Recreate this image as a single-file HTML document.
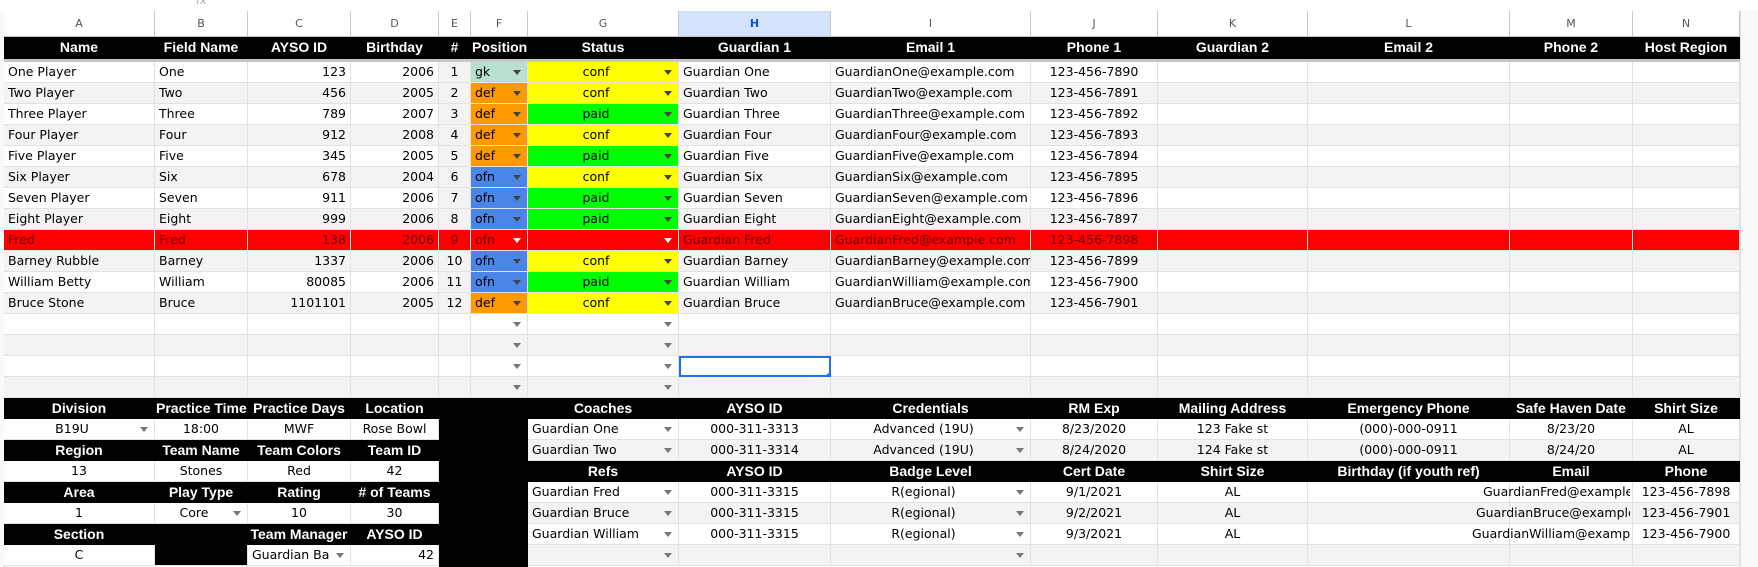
<!DOCTYPE html>
<html><head><meta charset="utf-8">
<style>
html,body{margin:0;padding:0;}
body{width:1758px;height:567px;position:relative;overflow:hidden;background:#fff;font-family:"DejaVu Sans","Liberation Sans",sans-serif;font-size:12.5px;color:#000;}
.c{position:absolute;box-sizing:border-box;border-right:1px solid #e2e2e2;border-bottom:1px solid #e2e2e2;overflow:hidden;white-space:nowrap;padding:0 4px;line-height:20px;}
.h{background:#000;color:#fff;font-weight:bold;text-align:center;border-color:#000;font-family:"Liberation Sans",sans-serif;font-size:14px;padding:0 1px;}
.ch{position:absolute;box-sizing:border-box;border-right:1px solid #c7c7c7;border-bottom:1px solid #c7c7c7;text-align:center;color:#555;font-size:11px;line-height:25px;background:#fff;}
.arr{position:absolute;right:6px;top:8px;width:0;height:0;border-left:4px solid transparent;border-right:4px solid transparent;border-top:5px solid #777;}
</style></head><body>
<div style="position:absolute;left:0;top:0;width:1758px;height:11px;background:#fff;border-bottom:1px solid #c7c7c7;"><span style="position:absolute;left:196px;top:-6px;color:#aaa;font-size:11px;font-style:italic;">fx</span></div>
<div style="position:absolute;left:1740px;top:11px;width:18px;height:556px;background:#f8f9fa;border-left:1px solid #e0e0e0;"></div>
<div style="position:absolute;left:0;top:11px;width:4px;height:556px;background:#f8f9fa;border-right:1px solid #c7c7c7;"></div>
<div id="root"></div>
<script>
const colX=[4,155,248,351,439,471,528,679,831,1031,1158,1308,1510,1633,1740];
const colLetters=["A","B","C","D","E","F","G","H","I","J","K","L","M","N"];
const headers=["Name","Field Name","AYSO ID","Birthday","#","Position","Status","Guardian 1","Email 1","Phone 1","Guardian 2","Email 2","Phone 2","Host Region"];
const names=["One Player","Two Player","Three Player","Four Player","Five Player","Six Player","Seven Player","Eight Player","Fred","Barney Rubble","William Betty","Bruce Stone"];
const fieldNames=["One","Two","Three","Four","Five","Six","Seven","Eight","Fred","Barney","William","Bruce"];
const aysoIds=["123","456","789","912","345","678","911","999","138","1337","80085","1101101"];
const birthdays=["2006","2005","2007","2008","2005","2004","2006","2006","2006","2006","2006","2005"];
const positions=["gk","def","def","def","def","ofn","ofn","ofn","ofn","ofn","ofn","def"];
const statuses=["conf","conf","paid","conf","paid","conf","paid","paid","","conf","paid","conf"];
const guardians=["One","Two","Three","Four","Five","Six","Seven","Eight","Fred","Barney","William","Bruce"];
const phones=["7890","7891","7892","7893","7894","7895","7896","7897","7898","7899","7900","7901"];
const posColor={gk:"#b7e1cd",def:"#ff9900",ofn:"#4a86e8"};
const statColor={conf:"#ffff00",paid:"#00ff00"};
const root=document.getElementById('root');
function cell(c0,c1,y,h,text,opt){
  opt=opt||{};
  const d=document.createElement('div');
  d.className='c'+(opt.h?' h':'');
  d.style.left=colX[c0]+'px';d.style.top=y+'px';
  d.style.width=(colX[c1]-colX[c0])+'px';d.style.height=h+'px';
  d.style.lineHeight=(h-1)+'px';
  if(opt.bg)d.style.background=opt.bg;
  if(opt.color)d.style.color=opt.color;
  d.style.textAlign=opt.al||(opt.h?'center':'left');
  if(opt.arrow){d.style.paddingRight='18px';const a=document.createElement('span');a.className='arr';if(opt.arrowColor)a.style.borderTopColor=opt.arrowColor;d.appendChild(a);}
  if(text){const s=document.createElement('span');s.textContent=text;d.appendChild(s);}
  
  
  root.appendChild(d);return d;
}
for(let i=0;i<14;i++){
  const d=document.createElement('div');d.className='ch';
  d.style.left=colX[i]+'px';d.style.top='11px';d.style.width=(colX[i+1]-colX[i])+'px';d.style.height='26px';
  if(i===7){d.style.background='#d3e3fd';d.style.color='#0b57d0';d.style.fontWeight='bold';}
  d.textContent=colLetters[i];
  
  
  root.appendChild(d);
}
for(let i=0;i<14;i++){cell(i,i+1,37,22,headers[i],{h:1,name:'header-'+headers[i].toLowerCase().replace(/[^a-z0-9]+/g,'-')});}
const sep=document.createElement('div');sep.style.cssText='position:absolute;left:4px;top:59px;width:1736px;height:3px;background:#c7c7c7;';


root.appendChild(sep);
const RH=21,Y0=62;
for(let r=0;r<16;r++){
  const y=Y0+r*RH;const base=r%2?'#f3f3f3':'#fff';
  if(r<12){
    const fred=r===8;const bg=fred?'#ff0000':base;const col=fred?'#660000':'#000';
    cell(0,1,y,RH,names[r],{bg,color:col,name:'player-name'});
    cell(1,2,y,RH,fieldNames[r],{bg,color:col,name:'field-name'});
    cell(2,3,y,RH,aysoIds[r],{bg,color:col,al:'right',name:'ayso-id'});
    cell(3,4,y,RH,birthdays[r],{bg,color:col,al:'right',name:'birthday'});
    cell(4,5,y,RH,String(r+1),{bg:fred?bg:'#f3f3f3',color:col,al:'center',name:'jersey-number'});
    cell(5,6,y,RH,positions[r],{bg:fred?bg:posColor[positions[r]],color:col,arrow:1,arrowColor:fred?'#fff':'#444',name:'position-dropdown'});
    cell(6,7,y,RH,statuses[r],{bg:fred?bg:statColor[statuses[r]],color:col,al:'center',arrow:1,arrowColor:fred?'#fff':'#444',name:'status-dropdown'});
    cell(7,8,y,RH,'Guardian '+guardians[r],{bg,color:col,name:'guardian-1'});
    cell(8,9,y,RH,'Guardian'+guardians[r]+'@example.com',{bg,color:col,name:'email-1'});
    cell(9,10,y,RH,'123-456-'+phones[r],{bg,color:col,al:'center',name:'phone-1'});
    for(let c=10;c<14;c++)cell(c,c+1,y,RH,'',{bg,name:'empty-cell'});
  }else{
    for(let c=0;c<14;c++){
      const o={bg:base,name:'empty-cell'};
      if(c===5||c===6)o.arrow=1;
      const d=cell(c,c+1,y,RH,'',o);
      if(r===14&&c===7){d.style.border='2px solid #1a73e8';d.style.background='#fff';
        const h=document.createElement('div');h.style.cssText='position:absolute;left:826px;top:'+(y+RH-4)+'px;width:8px;height:8px;border-radius:50%;background:#1a73e8;';
        
        
        root.appendChild(h);}
    }
  }
}
const BY=398,BH=21;
const leftHeaders=[["Division","Practice Time","Practice Days","Location"],["Region","Team Name","Team Colors","Team ID"],["Area","Play Type","Rating","# of Teams"],["Section","","Team Manager","AYSO ID"]];
const leftValues=[["B19U","18:00","MWF","Rose Bowl"],["13","Stones","Red","42"],["1","Core","10","30"],["C","","Guardian Ba","42"]];
for(let k=0;k<4;k++){
  const yh=BY+k*2*BH,yv=yh+BH;
  for(let c=0;c<4;c++){
    cell(c,c+1,yh,BH,leftHeaders[k][c],{h:1,name:'team-info-label'});
    if(k===3&&c===1){cell(c,c+1,yv,BH,'',{bg:'#000',name:'blank-cell'});continue;}
    const o={bg:'#fff',al:'center',name:'team-info-value'};
    if((k===0&&c===0)||(k===2&&c===1))o.arrow=1;
    if(k===3&&c===2){o.al='left';o.arrow=1;}
    if(k===3&&c===3)o.al='right';
    cell(c,c+1,yv,BH,leftValues[k][c],o);
  }
}
const spacer=document.createElement('div');spacer.style.cssText='position:absolute;left:439px;top:398px;width:89px;height:169px;background:#000;';


root.appendChild(spacer);
const coachHeaders=["Coaches","AYSO ID","Credentials","RM Exp","Mailing Address","Emergency Phone","Safe Haven Date","Shirt Size"];
const coachNames=["Guardian One","Guardian Two"];
const coachIds=["000-311-3313","000-311-3314"];
const coachCreds=["Advanced (19U)","Advanced (19U)"];
const coachRm=["8/23/2020","8/24/2020"];
const coachAddr=["123 Fake st","124 Fake st"];
const coachEm=["(000)-000-0911","(000)-000-0911"];
const coachSafe=["8/23/20","8/24/20"];
const refHeaders=["Refs","AYSO ID","Badge Level","Cert Date","Shirt Size","Birthday (if youth ref)","Email","Phone"];
const refNames=["Guardian Fred","Guardian Bruce","Guardian William",""];
const refIds=["000-311-3315","000-311-3315","000-311-3315",""];
const refBadge=["R(egional)","R(egional)","R(egional)",""];
const refCert=["9/1/2021","9/2/2021","9/3/2021",""];
const refShirt=["AL","AL","AL",""];
const refEmail=["GuardianFred@example.com","GuardianBruce@example.com","GuardianWilliam@example.com",""];
const refEmailX=[1483,1476,1472,0];
const refPhone=["123-456-7898","123-456-7901","123-456-7900",""];
for(let c=0;c<8;c++)cell(6+c,7+c,BY,BH,coachHeaders[c],{h:1,name:'coach-header'});
for(let i=0;i<2;i++){
  const y=BY+(i+1)*BH,bg=i%2?'#f3f3f3':'#fff';
  cell(6,7,y,BH,coachNames[i],{bg,arrow:1,name:'coach-name'});
  cell(7,8,y,BH,coachIds[i],{bg,al:'center',name:'coach-ayso-id'});
  cell(8,9,y,BH,coachCreds[i],{bg,al:'center',arrow:1,name:'coach-credentials'});
  cell(9,10,y,BH,coachRm[i],{bg,al:'center',name:'coach-rm-exp'});
  cell(10,11,y,BH,coachAddr[i],{bg,al:'center',name:'coach-address'});
  cell(11,12,y,BH,coachEm[i],{bg,al:'center',name:'coach-emergency-phone'});
  cell(12,13,y,BH,coachSafe[i],{bg,al:'center',name:'coach-safe-haven'});
  cell(13,14,y,BH,'AL',{bg,al:'center',name:'coach-shirt-size'});
}
for(let c=0;c<8;c++)cell(6+c,7+c,BY+3*BH,BH,refHeaders[c],{h:1,name:'ref-header'});
for(let i=0;i<4;i++){
  const y=BY+(i+4)*BH,bg=i%2?'#f3f3f3':'#fff';
  cell(6,7,y,BH,refNames[i],{bg,arrow:1,name:'ref-name'});
  cell(7,8,y,BH,refIds[i],{bg,al:'center',name:'ref-ayso-id'});
  cell(8,9,y,BH,refBadge[i],{bg,al:'center',arrow:1,name:'ref-badge-level'});
  cell(9,10,y,BH,refCert[i],{bg,al:'center',name:'ref-cert-date'});
  cell(10,11,y,BH,refShirt[i],{bg,al:'center',name:'ref-shirt-size'});
  cell(11,12,y,BH,'',{bg,name:'ref-birthday'});
  cell(12,13,y,BH,'',{bg,name:'ref-email'});
  cell(13,14,y,BH,refPhone[i],{bg,al:'center',name:'ref-phone'});
  if(refEmail[i]){
    const e=document.createElement('div');
    e.style.cssText='position:absolute;top:'+y+'px;left:'+refEmailX[i]+'px;width:'+(1630-refEmailX[i])+'px;height:20px;line-height:20px;overflow:hidden;white-space:nowrap;';
    e.textContent=refEmail[i];
    
    
    root.appendChild(e);
  }
}
</script>
</body></html>
